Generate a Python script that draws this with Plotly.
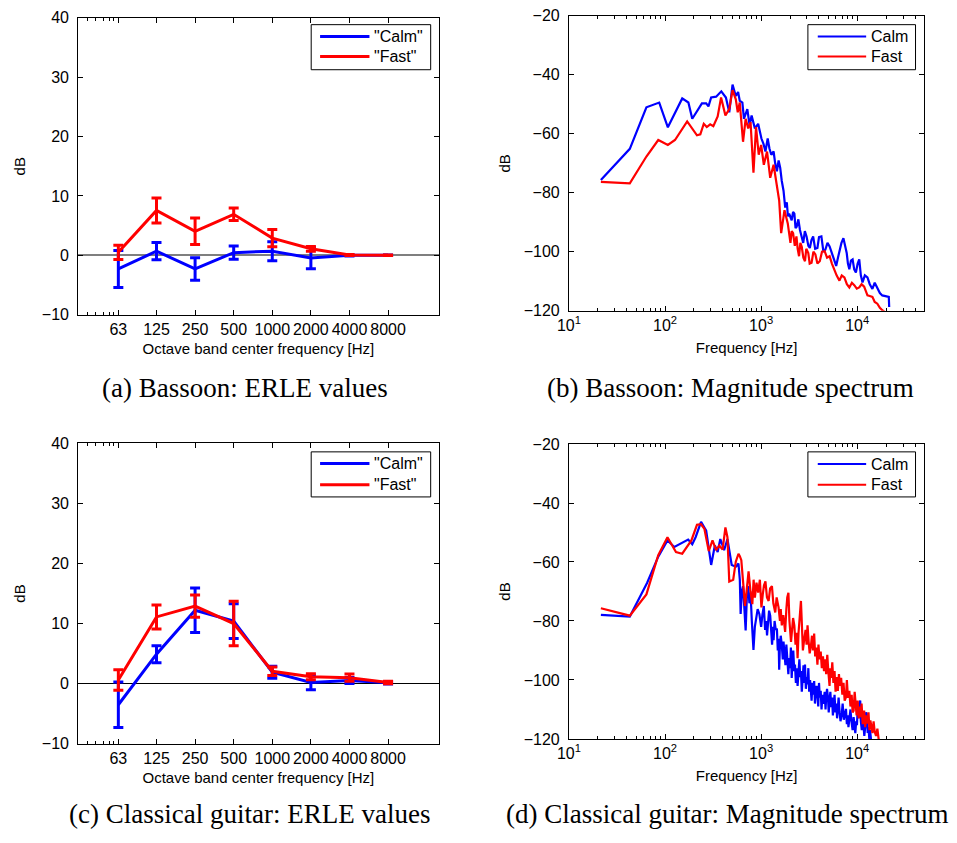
import plotly.graph_objects as go

# ---------------- ERLE per octave band ----------------
octave_bands = [63, 125, 250, 500, 1000, 2000, 4000, 8000]
band_labels = ["63", "125", "250", "500", "1000", "2000", "4000", "8000"]

bassoon_calm = [-2.3, 0.7, -2.3, 0.45, 0.7, -0.45, 0.0, 0.0]
bassoon_calm_err = [3.1, 1.45, 1.9, 1.1, 1.6, 1.8, 0.1, 0.05]
bassoon_fast = [0.5, 7.55, 4.05, 6.9, 2.9, 1.1, 0.05, 0.0]
bassoon_fast_err = [1.2, 2.1, 2.25, 1.05, 1.45, 0.4, 0.1, 0.05]

guitar_calm = [-3.5, 4.9, 12.2, 10.4, 1.9, 0.2, 0.55, 0.15]
guitar_calm_err = [3.8, 1.4, 3.7, 2.9, 1.0, 1.2, 0.5, 0.2]
guitar_fast = [0.6, 11.1, 12.9, 10.0, 2.07, 1.14, 1.0, 0.2]
guitar_fast_err = [1.7, 2.0, 1.85, 3.7, 0.7, 0.5, 0.6, 0.2]

# ---------------- Magnitude spectra (Hz, dB) ----------------
bassoon_calm_f = [21.5, 43, 64, 87, 107, 151, 175, 192, 242, 268, 283, 302, 340, 385, 430,
                  466, 504, 545, 576, 599, 638, 663, 718, 759, 796, 861, 931, 1007, 1060,
                  1109, 1170, 1220, 1276, 1348, 1400, 1459, 1520, 1580, 1640, 1710, 1780,
                  1850, 1900, 1956, 2080, 2150, 2218, 2280, 2343, 2440, 2535, 2640, 2742,
                  2850, 2969, 3100, 3213, 3340, 3477, 3650, 3853, 4000, 4235, 4450, 4656,
                  4900, 5158, 5580, 6036, 6300, 6531, 6850, 7181, 7450, 7770, 8000, 8275,
                  8600, 8952, 9300, 9685, 10100, 10490, 10900, 11350, 12000, 12770, 13500,
                  14380, 15200, 16190, 17200, 18220, 19700, 21300, 21500]
bassoon_calm_db = [-75.7, -65.1, -51.0, -49.4, -57.8, -48.0, -49.4, -54.9, -49.7, -49.7,
                   -50.7, -47.7, -47.4, -45.6, -47.7, -52.7, -43.3, -47.2, -45.8, -48.8,
                   -49.4, -54.9, -51.6, -57.1, -53.8, -58.2, -56.6, -61.6, -63.5, -66.0,
                   -61.6, -65.0, -67.1, -66.0, -70.0, -72.7, -69.0, -71.6, -76.0, -79.3,
                   -85.0, -83.2, -88.0, -87.1, -89.3, -86.5, -87.1, -92.0, -91.5, -89.0,
                   -92.6, -95.0, -97.0, -93.0, -94.8, -98.0, -98.7, -96.0, -94.8, -99.0,
                   -98.7, -95.0, -94.8, -100.0, -99.3, -97.0, -98.2, -101.5, -104.8, -102.0,
                   -99.3, -97.0, -95.4, -98.0, -100.4, -104.0, -105.9, -103.0, -102.6, -106.0,
                   -107.0, -104.0, -102.6, -108.0, -110.4, -108.0, -108.7, -111.0, -112.6,
                   -110.5, -112.6, -114.0, -114.8, -115.0, -115.3, -118.7]

bassoon_fast_f = [21.5, 43, 64, 85, 107, 127, 170, 215, 233, 253, 272, 295, 318, 353, 383,
                  405, 425, 466, 504, 545, 571, 599, 648, 690, 734, 776, 832, 885, 944, 1000,
                  1067, 1152, 1243, 1348, 1459, 1541, 1616, 1750, 1893, 2018, 2080, 2151,
                  2240, 2330, 2400, 2480, 2560, 2643, 2750, 2860, 2950, 3094, 3200, 3348,
                  3500, 3669, 3850, 4074, 4300, 4582, 4850, 5158, 5450, 5806, 6100, 6531,
                  6900, 7350, 7800, 8275, 8800, 9314, 9900, 10490, 11100, 11800, 12300,
                  12770, 13500, 14380, 15200, 16190, 17200, 18220, 20500]
bassoon_fast_db = [-76.3, -76.8, -67.7, -62.1, -63.8, -62.1, -55.8, -60.5, -60.2, -56.6,
                   -57.7, -56.8, -57.4, -54.1, -47.7, -50.5, -53.8, -51.6, -45.2, -48.3,
                   -52.7, -49.4, -62.7, -54.9, -58.2, -56.0, -73.2, -57.7, -67.1, -63.8,
                   -70.5, -66.0, -74.9, -70.5, -77.1, -82.6, -93.7, -85.9, -90.4, -97.0,
                   -93.0, -93.7, -98.0, -94.8, -99.0, -101.5, -97.0, -98.2, -102.0, -103.2,
                   -99.0, -100.4, -104.0, -103.7, -100.0, -100.9, -104.0, -103.2, -100.0,
                   -99.8, -102.0, -101.5, -104.0, -106.5, -108.0, -109.8, -108.0, -108.7,
                   -111.0, -112.1, -110.5, -111.3, -112.5, -112.1, -111.0, -111.8, -113.5,
                   -114.8, -115.0, -115.3, -117.0, -117.6, -119.0, -119.8, -121.0]

guitar_calm_f = [21.5, 43, 65, 85, 106, 125, 174, 192, 208, 237, 268, 302, 330, 353, 376,
                 412, 446, 494, 545, 581, 600, 612, 630, 648, 670, 690, 710, 734, 755, 776,
                 800, 832, 860, 885, 920, 958, 1000, 1030, 1067, 1100, 1130, 1152, 1180,
                 1210, 1243, 1270, 1300, 1330, 1348, 1380, 1420, 1459, 1490, 1520, 1541,
                 1570, 1600, 1640, 1680, 1710, 1750, 1790, 1830, 1870, 1920, 1956, 2000,
                 2040, 2080, 2120, 2160, 2210, 2250, 2300, 2350, 2395, 2450, 2500, 2550,
                 2595, 2650, 2700, 2760, 2820, 2860, 2920, 2980, 3040, 3100, 3160, 3230,
                 3293, 3350, 3420, 3490, 3563, 3630, 3700, 3780, 3853, 3930, 4000, 4080,
                 4169, 4250, 4350, 4450, 4582, 4680, 4750, 4850, 4958, 5050, 5150, 5250,
                 5362, 5470, 5580, 5700, 5806, 5930, 6050, 6170, 6282, 6400, 6550, 6700,
                 6900, 7050, 7250, 7450, 7633, 7800, 7950, 8100, 8275, 8500, 8700, 8950,
                 9170, 9350, 9550, 9750, 9930, 10100, 10300, 10500, 10740, 10900, 11150,
                 11400, 11620, 11850, 12100, 12350, 12570, 12850, 13100, 13350, 13590, 14000]
guitar_calm_db = [-77.9, -78.5, -67.1, -58.2, -52.7, -54.9, -52.4, -54.0, -51.6, -46.4,
                  -49.4, -61.0, -54.4, -56.6, -52.2, -56.0, -52.2, -61.0, -61.6, -60.5,
                  -66.0, -77.6, -70.0, -68.2, -76.0, -83.2, -72.0, -68.2, -74.0, -70.4,
                  -80.0, -89.8, -82.0, -79.3, -76.0, -77.6, -82.0, -78.0, -74.9, -83.0,
                  -80.0, -84.9, -79.0, -76.5, -78.2, -85.0, -88.0, -82.0, -86.5, -80.0,
                  -83.0, -82.6, -90.0, -86.0, -96.5, -88.0, -85.0, -88.2, -93.0, -87.0,
                  -91.5, -95.0, -88.0, -92.0, -98.0, -92.6, -96.0, -89.0, -99.3, -93.0,
                  -90.0, -97.0, -94.8, -101.0, -96.0, -102.0, -95.0, -93.0, -99.0, -97.0,
                  -104.0, -98.0, -95.0, -101.0, -94.8, -103.0, -99.0, -101.5, -96.0, -104.0,
                  -100.0, -103.7, -107.0, -101.0, -105.0, -100.4, -108.0, -104.0, -102.0,
                  -105.4, -109.0, -101.0, -106.0, -103.7, -110.0, -105.0, -108.1, -104.0,
                  -110.0, -106.0, -103.0, -105.9, -111.0, -107.0, -104.0, -109.2, -106.0,
                  -112.0, -107.0, -105.0, -111.0, -108.0, -113.0, -110.4, -106.0, -111.0,
                  -114.0, -111.5, -108.0, -113.5, -111.0, -109.8, -115.0, -112.0, -116.0,
                  -113.7, -110.0, -114.0, -117.0, -112.6, -116.0, -118.0, -114.0, -115.3,
                  -110.0, -113.0, -108.0, -107.0, -114.0, -117.0, -112.0, -114.8, -119.0,
                  -116.0, -111.0, -111.5, -118.0, -116.0, -120.0, -117.0, -121.0]

guitar_fast_f = [21.5, 43, 64, 85, 106, 130, 151, 188, 215, 237, 257, 285, 312, 340, 367,
                 397, 425, 446, 466, 512, 545, 581, 600, 622, 650, 679, 710, 740, 775, 810,
                 835, 861, 895, 931, 970, 1007, 1040, 1070, 1109, 1150, 1197, 1240, 1295,
                 1340, 1402, 1450, 1518, 1570, 1600, 1640, 1700, 1777, 1830, 1870, 1923,
                 1970, 2046, 2100, 2150, 2215, 2280, 2340, 2395, 2450, 2520, 2595, 2660,
                 2720, 2813, 2900, 2970, 3040, 3120, 3200, 3293, 3380, 3470, 3563, 3650,
                 3750, 3853, 3950, 4050, 4169, 4280, 4400, 4510, 4650, 4750, 4878, 5000,
                 5150, 5250, 5362, 5500, 5650, 5806, 5950, 6100, 6282, 6450, 6600, 6800,
                 7000, 7200, 7400, 7633, 7800, 8000, 8275, 8500, 8750, 8950, 9170, 9400,
                 9650, 9850, 10100, 10350, 10600, 10900, 11100, 11400, 11800, 12100, 12400,
                 12770, 13100, 13400, 13700, 14000, 14400, 14800, 15200, 15700, 16200,
                 16700, 17300]
guitar_fast_db = [-75.7, -78.2, -71.0, -57.7, -51.6, -56.6, -57.2, -52.7, -47.4, -47.2,
                  -48.8, -56.3, -52.7, -56.0, -54.4, -55.8, -48.3, -51.6, -66.6, -66.0,
                  -59.9, -57.2, -58.0, -59.4, -67.0, -74.9, -69.0, -63.2, -70.0, -74.3,
                  -66.0, -72.1, -67.0, -70.4, -66.0, -75.4, -71.0, -68.0, -66.6, -72.0,
                  -73.2, -69.0, -68.2, -74.0, -77.1, -72.0, -75.4, -80.0, -76.0, -81.5,
                  -78.0, -83.7, -76.0, -72.0, -70.4, -80.0, -87.1, -82.0, -79.0, -81.5,
                  -88.0, -84.0, -92.6, -84.0, -79.0, -73.2, -82.0, -90.0, -86.0, -83.0,
                  -88.0, -81.5, -87.0, -91.0, -88.6, -85.0, -90.0, -84.3, -92.0, -89.0,
                  -94.8, -88.0, -93.0, -90.4, -96.0, -92.0, -97.0, -93.0, -98.0, -91.5,
                  -97.0, -102.0, -96.0, -99.3, -94.0, -101.0, -97.0, -104.0, -99.0, -103.7,
                  -98.0, -102.0, -99.3, -105.0, -101.0, -107.0, -105.9, -100.0, -106.0,
                  -103.7, -109.0, -105.0, -111.0, -110.4, -104.0, -108.0, -112.0, -107.0,
                  -113.0, -109.0, -112.6, -108.0, -115.0, -110.4, -116.0, -112.0, -114.8,
                  -111.0, -117.0, -113.7, -116.0, -118.0, -114.0, -117.6, -119.0, -116.5,
                  -120.0, -121.0]

CALM = "#0000ff"
FAST = "#ff0000"
FONT = "Liberation Sans"
W, H = 957, 843


def px_x(a, b):
    return [a / W, b / W]


def px_y(top, bottom):
    return [1 - bottom / H, 1 - top / H]


fig = go.Figure()

# ERLE panels (a) and (c)
for xa, ya, calm, calm_e, fast, fast_e in [
    ("x", "y", bassoon_calm, bassoon_calm_err, bassoon_fast, bassoon_fast_err),
    ("x3", "y3", guitar_calm, guitar_calm_err, guitar_fast, guitar_fast_err),
]:
    fig.add_trace(go.Scatter(
        x=octave_bands, y=calm, mode="lines", name='"Calm"',
        line=dict(color=CALM, width=3),
        error_y=dict(type="data", array=calm_e, color=CALM, thickness=3, width=5),
        xaxis=xa, yaxis=ya, showlegend=False))
    fig.add_trace(go.Scatter(
        x=octave_bands, y=fast, mode="lines", name='"Fast"',
        line=dict(color=FAST, width=3),
        error_y=dict(type="data", array=fast_e, color=FAST, thickness=3, width=5),
        xaxis=xa, yaxis=ya, showlegend=False))

# Spectrum panels (b) and (d)
for xa, ya, cf, cd, ff, fd in [
    ("x2", "y2", bassoon_calm_f, bassoon_calm_db, bassoon_fast_f, bassoon_fast_db),
    ("x4", "y4", guitar_calm_f, guitar_calm_db, guitar_fast_f, guitar_fast_db),
]:
    fig.add_trace(go.Scatter(x=cf, y=cd, mode="lines", name="Calm",
                             line=dict(color=CALM, width=2.2),
                             xaxis=xa, yaxis=ya, showlegend=False))
    fig.add_trace(go.Scatter(x=ff, y=fd, mode="lines", name="Fast",
                             line=dict(color=FAST, width=2.2),
                             xaxis=xa, yaxis=ya, showlegend=False))

axis_common = dict(
    showline=True, linecolor="black", linewidth=1, mirror="allticks",
    ticks="inside", ticklen=5, tickcolor="black", showgrid=False,
    tickfont=dict(family=FONT, size=16, color="black"),
    title_font=dict(family=FONT, size=15, color="black"),
)

erle_x = dict(axis_common, type="log", range=[1.486, 4.297],
              tickvals=octave_bands, ticktext=band_labels, zeroline=False,
              minor=dict(ticks="inside", ticklen=3, tickcolor="black",
                         tickvals=[36, 42, 48, 54, 58]),
              title=dict(text="Octave band center frequency [Hz]", standoff=6))
spec_x = dict(axis_common, type="log", range=[1, 4.699],
              tickvals=[10, 100, 1000, 10000],
              ticktext=["10<sup>1</sup>", "10<sup>2</sup>", "10<sup>3</sup>", "10<sup>4</sup>"],
              zeroline=False,
              minor=dict(ticks="inside", ticklen=3, tickcolor="black", dtick="D1"),
              title=dict(text="Frequency [Hz]", standoff=9))
erle_y = dict(axis_common, range=[-10, 40], dtick=10, zeroline=True, ticklabelstandoff=5,
              title=dict(text="dB", standoff=12))
spec_y = dict(axis_common, range=[-120, -20], dtick=20, zeroline=False, ticklabelstandoff=5,
              title=dict(text="dB", standoff=9))

fig.update_layout(
    width=W, height=H, margin=dict(l=0, r=0, t=0, b=0),
    paper_bgcolor="white", plot_bgcolor="white",
    font=dict(family=FONT, color="black"),
    xaxis=dict(erle_x, domain=px_x(67, 432), anchor="y"),
    yaxis=dict(erle_y, domain=px_y(10, 313), anchor="x",
               zerolinecolor="#7f7f7f", zerolinewidth=2),
    xaxis2=dict(spec_x, domain=px_x(564, 924), anchor="y2"),
    yaxis2=dict(spec_y, domain=px_y(8, 309), anchor="x2"),
    xaxis3=dict(erle_x, domain=px_x(67, 432), anchor="y3"),
    yaxis3=dict(erle_y, domain=px_y(444, 751), anchor="x3",
                zerolinecolor="black", zerolinewidth=1),
    xaxis4=dict(spec_x, domain=px_x(564, 924), anchor="y4"),
    yaxis4=dict(spec_y, domain=px_y(445, 746), anchor="x4"),
    showlegend=False,
)


def draw_legend(box, line_x, rows, text_x, labels, line_width):
    """Boxed legend: box=(x0, y0, x1, y1) in pixels, one row per series."""
    x0, y0, x1, y1 = box
    fig.add_shape(type="rect", xref="paper", yref="paper",
                  x0=x0 / W, x1=x1 / W, y0=1 - y1 / H, y1=1 - y0 / H,
                  line=dict(color="black", width=1), fillcolor="white", layer="above")
    for (label, color), row_y in zip(labels, rows):
        fig.add_shape(type="line", xref="paper", yref="paper",
                      x0=line_x[0] / W, x1=line_x[1] / W,
                      y0=1 - row_y / H, y1=1 - row_y / H,
                      line=dict(color=color, width=line_width), layer="above")
        fig.add_annotation(text=label, xref="paper", yref="paper",
                           x=text_x / W, y=1 - row_y / H, xanchor="left", yanchor="middle",
                           showarrow=False,
                           font=dict(family=FONT, size=16, color="black"))


draw_legend((303, 17, 424, 63), (312, 362), (29, 49.5), 365,
            [('"Calm"', CALM), ('"Fast"', FAST)], 3)
draw_legend((806, 17, 915, 63), (816, 865), (29, 49.5), 868,
            [("Calm", CALM), ("Fast", FAST)], 2)
draw_legend((303, 453, 424, 499), (312, 362), (465, 486.5), 365,
            [('"Calm"', CALM), ('"Fast"', FAST)], 3)
draw_legend((806, 453, 915, 499), (816, 865), (465.5, 486.5), 868,
            [("Calm", CALM), ("Fast", FAST)], 2)

# Sub-figure captions
CAP_FONT = dict(family="Liberation Serif", size=27, color="black")
for text, cx, cy in [
    ("(a) Bassoon: ERLE values", 236, 388),
    ("(b) Bassoon: Magnitude spectrum", 728, 388),
    ("(c) Classical guitar: ERLE values", 241, 823),
    ("(d) Classical guitar: Magnitude spectrum", 724, 823),
]:
    fig.add_annotation(text=text, x=cx / W, y=1 - cy / H, xref="paper", yref="paper",
                       showarrow=False, font=CAP_FONT, xanchor="center", yanchor="middle")

fig.write_html("out.html")
